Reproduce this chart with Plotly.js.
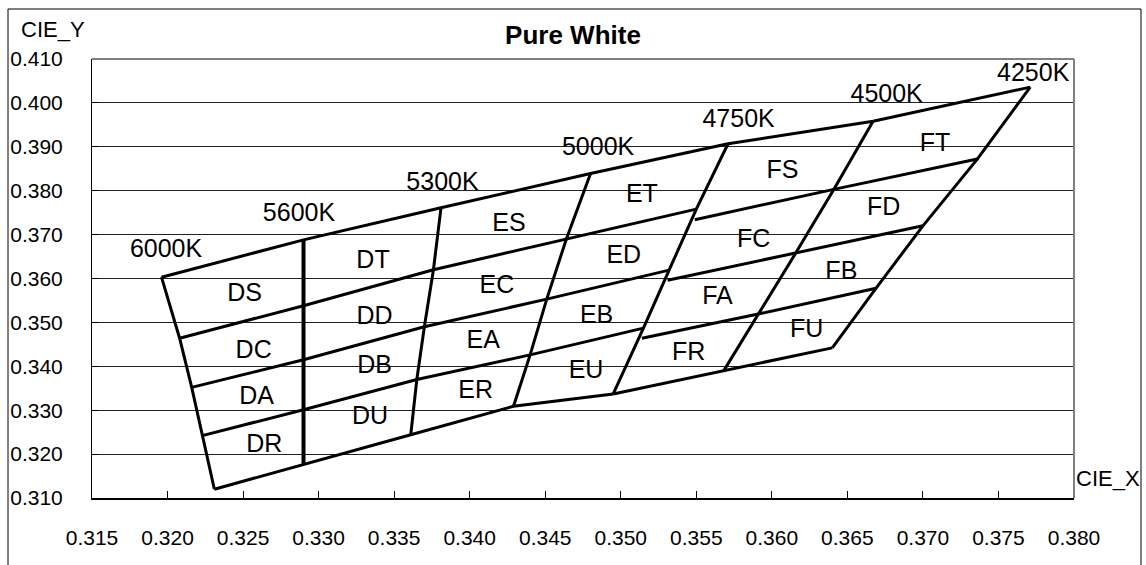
<!DOCTYPE html>
<html>
<head>
<meta charset="utf-8">
<script src="https://cdn.plot.ly/plotly-3.0.1.min.js"></script>
<style>
html,body{margin:0;padding:0;background:#fff;}
#chart{width:1146px;height:565px;}
</style>
</head>
<body>
<div id="chart"></div>
<script>
// Isotherm boundary lines (CIE x, y), top to bottom
const x6000K = [0.3196, 0.3208, 0.3216, 0.3223, 0.3231];
const y6000K = [0.3603, 0.3464, 0.3352, 0.3242, 0.3120];
const x5600K = [0.3290, 0.3290, 0.3290, 0.3290, 0.3290];
const y5600K = [0.3688, 0.3538, 0.3415, 0.3301, 0.3177];
const x5300K = [0.3381, 0.3376, 0.3370, 0.3365, 0.3361];
const y5300K = [0.3761, 0.3620, 0.3490, 0.3370, 0.3244];
const x5000K = [0.3480, 0.3464, 0.3451, 0.3440, 0.3429];
const y5000K = [0.3839, 0.3690, 0.3553, 0.3426, 0.3309];
// 4750K line: vertices used by the E group and by the F group
const x4750K_E = [0.3571, 0.3550, 0.3532, 0.3515, 0.3495];
const y4750K_E = [0.3907, 0.3758, 0.3619, 0.3487, 0.3337];
const x4750K_F = [0.3571, 0.3549, 0.3531, 0.3514, 0.3495];
const y4750K_F = [0.3907, 0.3734, 0.3596, 0.3464, 0.3337];
const x4500K = [0.3667, 0.3641, 0.3616, 0.3591, 0.3568];
const y4500K = [0.3958, 0.3803, 0.3659, 0.3519, 0.3389];
const x4250K = [0.3771, 0.3736, 0.3700, 0.3669, 0.3640];
const y4250K = [0.4036, 0.3872, 0.3720, 0.3578, 0.3442];

// CCT labels
const cctLabels = ['6000K', '5600K', '5300K', '5000K', '4750K', '4500K', '4250K'];
const cctLabelX = [0.3199, 0.3287, 0.3382, 0.3485, 0.3578, 0.3676, 0.3773];
const cctLabelY = [0.3663, 0.3745, 0.3816, 0.3896, 0.3959, 0.4016, 0.4064];

// Bin labels
const binNames = ['DS','DC','DA','DR','DT','DD','DB','DU',
                  'ES','EC','EA','ER','ET','ED','EB','EU',
                  'FS','FC','FA','FR','FT','FD','FB','FU'];
const binX = [0.3251,0.3257,0.3259,0.3264,0.3336,0.3337,0.3337,0.3334,
              0.3426,0.3418,0.3409,0.3404,0.3514,0.3502,0.3484,0.3477,
              0.3607,0.3588,0.3564,0.3545,0.3708,0.3674,0.3646,0.3623];
const binY = [0.3563,0.3434,0.3328,0.3218,0.3639,0.3510,0.3400,0.3282,
              0.3723,0.3582,0.3457,0.3343,0.3788,0.3649,0.3514,0.3388,
              0.3844,0.3685,0.3556,0.3428,0.3905,0.3759,0.3613,0.3480];

const xTicks = [0.315,0.320,0.325,0.330,0.335,0.340,0.345,0.350,0.355,0.360,0.365,0.370,0.375,0.380];
const yTicks = [0.310,0.320,0.330,0.340,0.350,0.360,0.370,0.380,0.390,0.400,0.410];

const FONT = 'Liberation Sans, Arial, sans-serif';
const traces = [];
function addLine(xs, ys, w) {
  traces.push({type:'scatter', mode:'lines', x:xs, y:ys, hoverinfo:'skip',
    line:{color:'#000', width:w}, showlegend:false});
}
// vertical isotherm lines
addLine(x6000K, y6000K, 3);
addLine(x5600K, y5600K, 4);
addLine(x5300K, y5300K, 3);
addLine(x5000K, y5000K, 3);
addLine(x4750K_E, y4750K_E, 3);
addLine(x4500K, y4500K, 3);
addLine(x4250K, y4250K, 3);
// row lines
for (let i = 0; i < 5; i++) {
  addLine([x6000K[i], x5600K[i], x5300K[i], x5000K[i], x4750K_E[i]],
          [y6000K[i], y5600K[i], y5300K[i], y5000K[i], y4750K_E[i]], 3);
  addLine([x4750K_F[i], x4500K[i], x4250K[i]],
          [y4750K_F[i], y4500K[i], y4250K[i]], 3);
}
traces.push({type:'scatter', mode:'text', x:binX, y:binY, text:binNames,
  textfont:{family:FONT, size:25, color:'#000'}, hoverinfo:'skip', showlegend:false});
traces.push({type:'scatter', mode:'text', x:cctLabelX, y:cctLabelY, text:cctLabels,
  textfont:{family:FONT, size:25, color:'#000'}, hoverinfo:'skip', showlegend:false});

const L = 92, R = 72, T = 59, B = 67;
const W = 1146, H = 565;
const pw = W - L - R, ph = H - T - B;
function px(x){ return (x - L) / pw; }
function py(y){ return (H - B - y) / ph; }

const layout = {
  width: W, height: H,
  margin: {l:L, r:R, t:T, b:B, pad:0},
  paper_bgcolor:'#fff', plot_bgcolor:'#fff',
  font:{family:FONT, size:21, color:'#000'},
  title:{text:'<b>Pure White</b>', font:{family:FONT, size:26, color:'#000'},
    x:0.5, xref:'container', y:1 - 35/H, yref:'container', yanchor:'middle'},
  xaxis:{range:[0.315,0.380], tickvals:xTicks, ticktext:xTicks.map(v=>v.toFixed(3)),
    showgrid:false, zeroline:false, showline:true, linecolor:'#000', linewidth:2,
    ticks:'inside', ticklen:7, tickcolor:'#000', tickwidth:1, ticklabelstandoff:20,
    tickfont:{family:FONT, size:21, color:'#000'}},
  yaxis:{range:[0.310,0.410], tickvals:yTicks, ticktext:yTicks.map(v=>v.toFixed(3)),
    showgrid:true, gridcolor:'#222', gridwidth:1, zeroline:false,
    showline:true, linecolor:'#000', linewidth:1,
    ticks:'inside', ticklen:6, tickcolor:'#000', tickwidth:1, ticklabelstandoff:24,
    tickfont:{family:FONT, size:21, color:'#000'}},
  shapes:[
    {type:'line', xref:'paper', yref:'paper', x0:0, x1:1, y0:1, y1:1, line:{color:'#000', width:1}},
    {type:'line', xref:'paper', yref:'paper', x0:1, x1:1, y0:0, y1:1, line:{color:'#808080', width:2}},
    {type:'rect', xref:'paper', yref:'paper', x0:px(8), x1:px(1141), y0:py(575), y1:py(9),
      line:{color:'#000', width:1}, fillcolor:'rgba(0,0,0,0)', layer:'below'}
  ],
  annotations:[
    {text:'CIE_Y', xref:'paper', yref:'paper', x:px(53), y:py(30), showarrow:false,
      xanchor:'center', yanchor:'middle', font:{family:FONT, size:22, color:'#000'}},
    {text:'CIE_X', xref:'paper', yref:'paper', x:px(1107.5), y:py(478), showarrow:false,
      xanchor:'center', yanchor:'middle', font:{family:FONT, size:22, color:'#000'}}
  ]
};
Plotly.newPlot('chart', traces, layout, {displayModeBar:false, staticPlot:true});
</script>
</body>
</html>
